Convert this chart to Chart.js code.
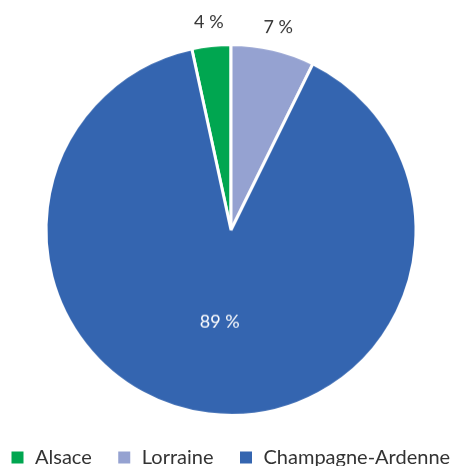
<!DOCTYPE html>
<html>
<head>
<meta charset="utf-8">
<script src="https://cdn.jsdelivr.net/npm/chart.js@4"></script>
<style>
  html, body { margin: 0; padding: 0; background: #fff; overflow: hidden; }
  #wrap { width: 492px; height: 476.5px; margin-left: -15px; }
</style>
</head>
<body>
<div id="wrap"><canvas id="pieChart"></canvas></div>
<script>
// Regions and their share (%)
const regions = ['Alsace', 'Lorraine', 'Champagne-Ardenne'];
const shares = [3.4, 7.3, 89.3];
const shareLabels = ['4 %', '7 %', '89 %'];
const colors = ['#00a650', '#95a2d1', '#3465b0'];

const FONT = 'Lato, "Open Sans", sans-serif';

// start so that Lorraine begins at 12 o'clock
const total = shares.reduce((a, b) => a + b, 0);
const startRotation = -shares[0] / total * 360;

// draws the % labels (small slices outside, big one inside)
const sliceLabels = {
    id: 'sliceLabels',
    afterDatasetsDraw(chart) {
        const ctx = chart.ctx;
        const arcs = chart.getDatasetMeta(0).data;
        ctx.save();
        ctx.font = '18px ' + FONT;
        ctx.textAlign = 'center';
        ctx.textBaseline = 'middle';
        arcs.forEach((arc, i) => {
            const p = arc.getProps(['x', 'y', 'startAngle', 'endAngle', 'outerRadius'], true);
            const mid = (p.startAngle + p.endAngle) / 2;
            const outside = shares[i] < 20;
            const r = outside ? p.outerRadius + 23 : p.outerRadius * 0.5;
            ctx.fillStyle = outside ? '#333333' : '#ffffff';
            ctx.fillText(shareLabels[i], p.x + Math.cos(mid) * r, p.y + Math.sin(mid) * r);
        });
        ctx.restore();
    }
};

const ctx = document.getElementById('pieChart').getContext('2d');
const pieChart = new Chart(ctx, {
    type: 'pie',
    data: {
        labels: regions,
        datasets: [{
            data: shares,
            backgroundColor: colors,
            borderColor: '#ffffff',
            borderWidth: 3,
            hoverOffset: 0
        }]
    },
    options: {
        responsive: true,
        maintainAspectRatio: false,
        animation: false,
        rotation: startRotation,
        layout: { padding: { top: 43, bottom: 0, left: 0, right: 0 } },
        plugins: {
            tooltip: { enabled: false },
            legend: {
                position: 'bottom',
                align: 'start',
                // empty title only used as a spacer above the items
                title: { display: true, text: '', padding: 0, font: { size: 5, lineHeight: 1.1 } },
                labels: {
                    boxWidth: 15,
                    boxHeight: 15,
                    padding: 25,
                    color: '#333333',
                    font: { family: FONT, size: 20 }
                }
            }
        }
    },
    plugins: [sliceLabels]
});
</script>
</body>
</html>
